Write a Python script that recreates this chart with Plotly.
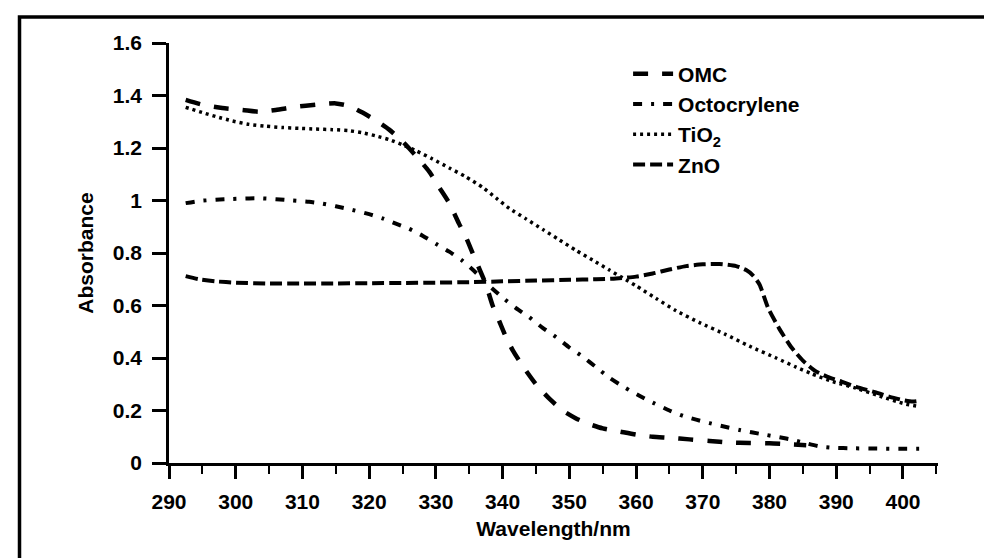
import plotly.graph_objects as go

# ---- data ----
omc_x = [292.5, 295, 298, 301, 303.5, 306, 309, 312, 315, 317, 319, 321, 323, 325, 327, 329, 330.5, 332,
         333.5, 334.5, 335.5, 336.5, 337.5, 338.5, 339.5, 340.5, 341.5, 343, 345, 347, 349, 351, 353, 355,
         357.5, 360, 362.5, 365, 368, 371, 374, 377, 380, 383, 385.5]
omc_y = [1.383, 1.365, 1.352, 1.345, 1.338, 1.345, 1.357, 1.365, 1.37, 1.36, 1.335, 1.305, 1.27, 1.225, 1.17,
         1.11, 1.05, 0.99, 0.91, 0.86, 0.80, 0.74, 0.68, 0.60, 0.54, 0.48, 0.43, 0.37, 0.30, 0.245, 0.20,
         0.17, 0.148, 0.132, 0.12, 0.108, 0.10, 0.096, 0.09, 0.084, 0.078, 0.076, 0.075, 0.071, 0.068]

octo_x = [292.5, 294.5, 297, 299.5, 302, 304, 306, 308.5, 311, 313, 315, 317.5, 320, 322, 324, 326, 328,
          330, 332, 334, 336, 338, 340, 342, 344, 346, 348, 350, 352, 354, 356, 358.4, 360.5, 362.5, 365,
          367, 369, 371, 373, 375.5, 377.5, 379.5, 381.5, 383.5, 385.5, 387.5, 389.5, 392.5, 396, 400, 403.3]
octo_y = [0.99, 0.998, 1.003, 1.006, 1.008, 1.008, 1.005, 1.0, 0.995, 0.988, 0.978, 0.964, 0.948, 0.932,
          0.912, 0.892, 0.866, 0.835, 0.805, 0.77, 0.725, 0.675, 0.63, 0.59, 0.555, 0.515, 0.48, 0.44, 0.405,
          0.365, 0.325, 0.286, 0.256, 0.23, 0.20, 0.18, 0.165, 0.152, 0.14, 0.126, 0.116, 0.107, 0.098,
          0.088, 0.075, 0.063, 0.058, 0.056, 0.055, 0.054, 0.054]

tio2_x = [292.5, 295, 297, 299.5, 302, 304.5, 307, 309.5, 312, 314.5, 317, 319, 321, 323, 325, 327, 329.5,
          332, 334.5, 337, 339, 341, 343.5, 346, 348.5, 351, 353.5, 356, 358, 360, 363, 366, 369.5, 373.4,
          377, 381, 384, 386.3, 389.5, 393, 396.5, 400.3, 402.5]
tio2_y = [1.355, 1.335, 1.32, 1.303, 1.29, 1.283, 1.278, 1.275, 1.272, 1.27, 1.266, 1.258, 1.246, 1.232,
          1.212, 1.19, 1.158, 1.124, 1.09, 1.05, 1.01, 0.97, 0.93, 0.89, 0.85, 0.81, 0.773, 0.735, 0.705,
          0.675, 0.627, 0.58, 0.535, 0.49, 0.445, 0.40, 0.365, 0.34, 0.31, 0.285, 0.255, 0.225, 0.215]

zno_x = [292.5, 294.5, 297, 300, 305, 310, 315, 320, 325, 330, 335, 340, 345, 350, 354, 357, 360, 362.5,
         365, 367.5, 370, 372.5, 375, 376.5, 377.5, 378.5, 379.8, 381.5, 383.3, 385, 386.9, 389, 390.8, 393,
         395.8, 398, 400.3, 401.5, 402.7]
zno_y = [0.712, 0.70, 0.692, 0.687, 0.684, 0.684, 0.684, 0.685, 0.686, 0.687, 0.689, 0.692, 0.695, 0.698,
         0.70, 0.703, 0.71, 0.722, 0.737, 0.75, 0.757, 0.758, 0.75, 0.735, 0.715, 0.68, 0.59, 0.51, 0.44,
         0.39, 0.35, 0.325, 0.31, 0.29, 0.27, 0.252, 0.238, 0.234, 0.238]

series_names = ["OMC", "Octocrylene", "TiO<sub>2</sub>", "ZnO"]
x_ticks = [290, 300, 310, 320, 330, 340, 350, 360, 370, 380, 390, 400]
y_ticks = [0, 0.2, 0.4, 0.6, 0.8, 1, 1.2, 1.4, 1.6]

FONT = "Liberation Sans, Arial, sans-serif"

fig = go.Figure()
styles = [
    dict(width=4.5, dash="15px,14px"),
    dict(width=4, dash="9px,9px,3px,9px"),
    dict(width=3.5, dash="3px,4px"),
    dict(width=4, dash="12px,5px"),
]
for name, xs, ys, st in zip(series_names, [omc_x, octo_x, tio2_x, zno_x],
                            [omc_y, octo_y, tio2_y, zno_y], styles):
    fig.add_trace(go.Scatter(x=xs, y=ys, mode="lines", name=name,
                             line=dict(color="black", shape="spline", smoothing=0.6, **st)))

fig.update_layout(
    width=992, height=558,
    margin=dict(l=161, r=62, t=35, b=103),
    paper_bgcolor="white", plot_bgcolor="white",
    font=dict(family=FONT, size=21, color="black", weight="bold"),
    showlegend=True,
    legend=dict(x=0.597, y=0.975, xanchor="left", yanchor="top",
                bgcolor="rgba(0,0,0,0)", itemwidth=40,
                font=dict(family=FONT, size=21, color="black", weight="bold")),
    xaxis=dict(range=[290, 405.25], tickvals=x_ticks, ticktext=[str(v) for v in x_ticks],
               showline=True, linecolor="black", linewidth=2.5, showgrid=False, zeroline=False,
               ticks="outside", ticklen=13, tickwidth=2.5, tickcolor="black",
               minor=dict(dtick=5, tick0=290, ticks="outside", ticklen=8, tickwidth=2, tickcolor="black", showgrid=False),
               ticklabelstandoff=5,
               title=dict(text="Wavelength/nm", standoff=10,
                          font=dict(family=FONT, size=21, color="black", weight="bold"))),
    yaxis=dict(range=[0, 1.6], tickvals=y_ticks,
               showline=True, linecolor="black", linewidth=2.5, showgrid=False, zeroline=False,
               ticks="outside", ticklen=14, tickwidth=2.5, tickcolor="black",
               ticklabelstandoff=6,
               title=dict(text="Absorbance", standoff=14,
                          font=dict(family=FONT, size=21, color="black", weight="bold"))),
    shapes=[dict(type="rect", xref="paper", yref="paper",
                 x0=-0.1944, x1=1.3, y0=-0.5, y1=1.0619,
                 line=dict(color="black", width=3.5), layer="above")],
)

fig.write_html("out.html")
